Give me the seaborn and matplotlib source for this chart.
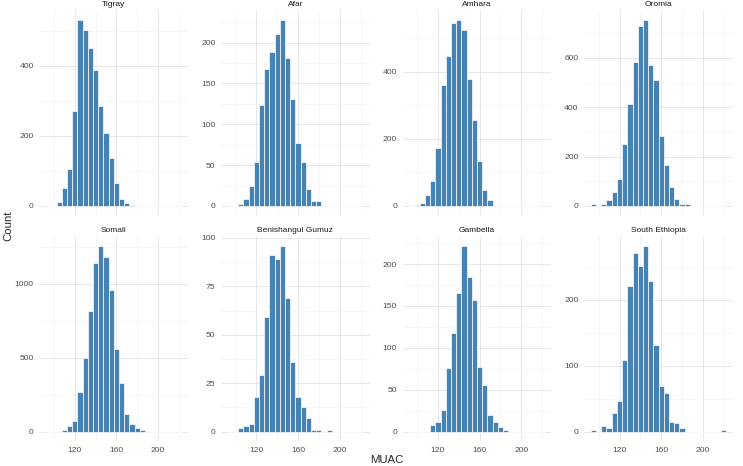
import numpy as np
import pandas as pd
import matplotlib
matplotlib.use("Agg")
import matplotlib.pyplot as plt
from matplotlib.ticker import MultipleLocator
import seaborn as sns

# MUAC bin centres (bins 5 wide) and counts, per region
muac_centers = [95, 100, 105, 110, 115, 120, 125, 130, 135, 140, 145, 150, 155,
                160, 165, 170, 175, 180, 185, 190, 195, 200, 205, 210, 215, 220]

tigray = [0, 0, 10, 50, 106, 272, 532, 502, 451, 388, 285, 208, 136,
          66, 19, 9, 3, 0, 0, 0, 0, 0, 0, 0, 0, 0]
afar = [0, 0, 2, 8, 25, 54, 124, 168, 189, 210, 228, 181, 131,
        77, 54, 21, 6, 6, 0, 0, 0, 0, 0, 0, 0, 0]
amhara = [0, 3, 8, 33, 74, 172, 360, 445, 543, 554, 524, 378, 257,
          133, 47, 19, 0, 0, 0, 0, 0, 0, 0, 0, 0, 0]
oromia = [7, 0, 7, 25, 55, 109, 250, 412, 585, 727, 754, 572, 511,
          283, 166, 75, 30, 9, 9, 0, 0, 0, 0, 0, 0, 0]
somali = [0, 0, 0, 11, 36, 70, 267, 501, 816, 1139, 1258, 1182, 955,
          557, 328, 119, 49, 25, 9, 0, 0, 0, 0, 0, 0, 0]
benishangul = [0, 0, 2, 3, 4, 18, 29, 59, 91, 89, 96, 69, 36,
               18, 13, 7, 1, 1, 0, 1, 0, 0, 0, 0, 0, 0]
gambella = [0, 0, 0, 0, 8, 12, 26, 76, 118, 165, 222, 184, 157,
            77, 56, 20, 12, 6, 2, 0, 0, 0, 0, 0, 0, 0]
south_ethiopia = [2, 0, 8, 5, 28, 47, 109, 221, 271, 251, 282, 229, 131,
                  70, 59, 15, 13, 5, 0, 0, 0, 0, 0, 0, 0, 2]

regions = ["Tigray", "Afar", "Amhara", "Oromia",
           "Somali", "Benishangul Gumuz", "Gambella", "South Ethiopia"]
region_counts = [tigray, afar, amhara, oromia,
                 somali, benishangul, gambella, south_ethiopia]

# y tick step per panel (minor gridlines at half step)
y_steps = [200, 50, 200, 200, 500, 25, 50, 100]

rows = []
for name, counts in zip(regions, region_counts):
    for c, n in zip(muac_centers, counts):
        if n > 0:
            rows.append({"Region": name, "MUAC": c, "Count": n})
df = pd.DataFrame(rows)

sns.set_style("white")
plt.rcParams["font.family"] = ["Liberation Sans", "DejaVu Sans"]

g = sns.FacetGrid(df, col="Region", col_order=regions, col_wrap=4,
                  sharex=True, sharey=False, height=2.0, aspect=0.75)
g.map_dataframe(sns.histplot, x="MUAC", weights="Count",
                binwidth=5, binrange=(92.5, 222.5),
                color="#4682B4", edgecolor="white", linewidth=0.5, alpha=1)

g.set_titles("{col_name}", size=6.0, color="#1A1A1A", pad=3)
g.set_axis_labels("", "")
g.set(xlim=(86, 229))

for ax, counts, step in zip(g.axes.flat, region_counts, y_steps):
    ymax = max(counts)
    ax.set_ylim(-0.05 * ymax, 1.05 * ymax)
    ax.xaxis.set_major_locator(MultipleLocator(40))
    ax.xaxis.set_minor_locator(MultipleLocator(20))
    ax.set_xticks([120, 160, 200])
    ax.yaxis.set_major_locator(MultipleLocator(step))
    ax.yaxis.set_minor_locator(MultipleLocator(step / 2))
    ax.grid(which="major", color="#E3E3E3", linewidth=0.6)
    ax.grid(which="minor", color="#EFEFEF", linewidth=0.4)
    ax.set_axisbelow(True)
    for s in ax.spines.values():
        s.set_visible(False)
    ax.tick_params(which="both", length=0, labelsize=6.1,
                   labelcolor="#4D4D4D", pad=4)

fig = g.figure
fig.set_size_inches(7.43, 4.66)
fig.subplots_adjust(left=0.053, right=0.9866, top=0.9775, bottom=0.0536,
                    wspace=0.219, hspace=0.1026)
fig.text(0.52, 0.013, "MUAC", ha="center", va="center", fontsize=8.2)
fig.text(0.011, 0.515, "Count", ha="center", va="center", rotation=90, fontsize=8.2)

fig.savefig("out.png", dpi=100)
